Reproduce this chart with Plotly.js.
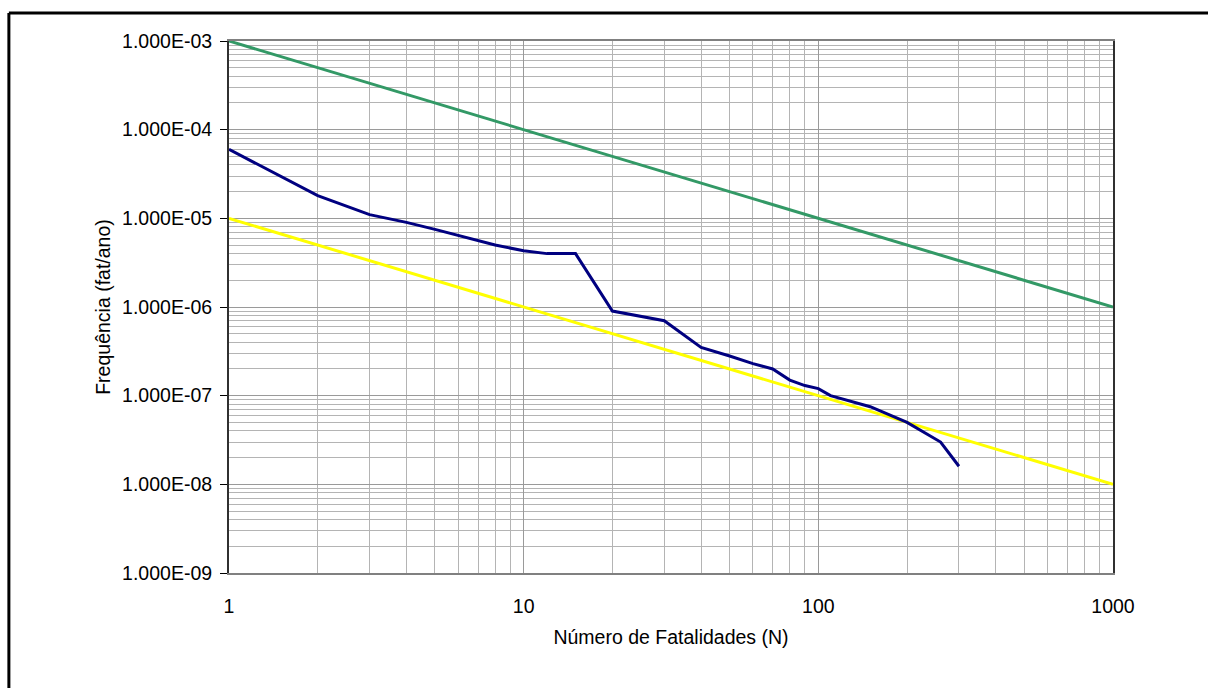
<!DOCTYPE html>
<html>
<head>
<meta charset="utf-8">
<script src="https://cdn.plot.ly/plotly-3.0.1.min.js"></script>
<style>
  html, body { margin: 0; padding: 0; background: #fff; }
  #chart { width: 1208px; height: 688px; }
</style>
</head>
<body>
<div id="chart"></div>
<script>
// F-N curve: cumulative frequency of N or more fatalities
const fatalities = [1, 2, 3, 4, 5, 6, 7, 8, 10, 12, 15, 20, 30, 40, 50, 60, 70, 80, 90, 100, 110, 150, 200, 260, 300];
const frequency = [6e-5, 1.8e-5, 1.1e-5, 9e-6, 7.5e-6, 6.4e-6, 5.6e-6, 5e-6, 4.3e-6, 4e-6, 4e-6,
                   9e-7, 7e-7, 3.5e-7, 2.8e-7, 2.3e-7, 2e-7, 1.5e-7, 1.3e-7, 1.2e-7, 1e-7, 7.5e-8, 5e-8, 3e-8, 1.6e-8];

// Tolerability criterion lines
const limitN = [1, 1000];
const upperLimit = [1e-3, 1e-6];
const lowerLimit = [1e-5, 1e-8];

// Axis ticks
const xTickVals = [1, 10, 100, 1000];
const xTickText = ['1', '10', '100', '1000'];
const yTickVals = [1e-9, 1e-8, 1e-7, 1e-6, 1e-5, 1e-4, 1e-3];
const yTickText = ['1.000E-09', '1.000E-08', '1.000E-07', '1.000E-06', '1.000E-05', '1.000E-04', '1.000E-03'];

// minor grid at 2..9 of each decade
function minorGrid(lo, hi) {
  const out = [];
  for (let e = lo; e < hi; e++) {
    for (let m = 2; m <= 9; m++) out.push(m * Math.pow(10, e));
  }
  return out;
}

const font = 'Arial, "Liberation Sans", sans-serif';
const fs = 19.5;

const traces = [
  { x: limitN, y: upperLimit, mode: 'lines', line: { color: '#339966', width: 3 }, hoverinfo: 'x+y' },
  { x: limitN, y: lowerLimit, mode: 'lines', line: { color: '#FFFF00', width: 3 }, hoverinfo: 'x+y' },
  { x: fatalities, y: frequency, mode: 'lines', line: { color: '#000080', width: 3 }, hoverinfo: 'x+y' }
];

const layout = {
  width: 1208,
  height: 688,
  margin: { l: 229, r: 95, t: 41, b: 115 },
  paper_bgcolor: '#ffffff',
  plot_bgcolor: '#ffffff',
  showlegend: false,
  font: { family: font, size: fs, color: '#000' },
  xaxis: {
    type: 'log',
    range: [0, 3],
    tickmode: 'array',
    tickvals: xTickVals,
    ticktext: xTickText,
    ticks: '',
    ticklabelstandoff: 15,
    showgrid: true,
    gridcolor: '#9a9a9a',
    gridwidth: 1,
    minor: { tickmode: 'array', tickvals: minorGrid(0, 3), showgrid: true, gridcolor: '#b4b4b4', gridwidth: 1, ticks: '' },
    showline: true,
    linecolor: '#808080',
    linewidth: 2,
    mirror: true,
    zeroline: false,
    tickfont: { family: font, size: fs, color: '#000' },
    title: { text: 'Número de Fatalidades (N)', font: { family: font, size: fs, color: '#000' }, standoff: 14 }
  },
  yaxis: {
    type: 'log',
    range: [-9, -3],
    tickmode: 'array',
    tickvals: yTickVals,
    ticktext: yTickText,
    ticks: 'outside',
    ticklen: 7,
    tickwidth: 1,
    tickcolor: '#000',
    ticklabelstandoff: 4,
    showgrid: true,
    gridcolor: '#9a9a9a',
    gridwidth: 1,
    minor: { tickmode: 'array', tickvals: minorGrid(-9, -3), showgrid: true, gridcolor: '#b4b4b4', gridwidth: 1, ticks: '' },
    showline: true,
    linecolor: '#303030',
    linewidth: 2,
    mirror: true,
    zeroline: false,
    tickfont: { family: font, size: fs, color: '#000' },
    title: { text: 'Frequência (fat/ano)', font: { family: font, size: fs, color: '#000' }, standoff: 6 }
  },
  shapes: [
    // outer frame (top and left edges)
    { type: 'line', xref: 'paper', yref: 'paper', x0: -0.249, x1: 1.2, y0: 1.0526, y1: 1.0526, line: { color: '#000', width: 3 } },
    { type: 'line', xref: 'paper', yref: 'paper', x0: -0.249, x1: -0.249, y0: 1.0526, y1: -0.3, line: { color: '#000', width: 3 } }
  ]
};

Plotly.newPlot('chart', traces, layout, { displayModeBar: false, staticPlot: true });
</script>
</body>
</html>
